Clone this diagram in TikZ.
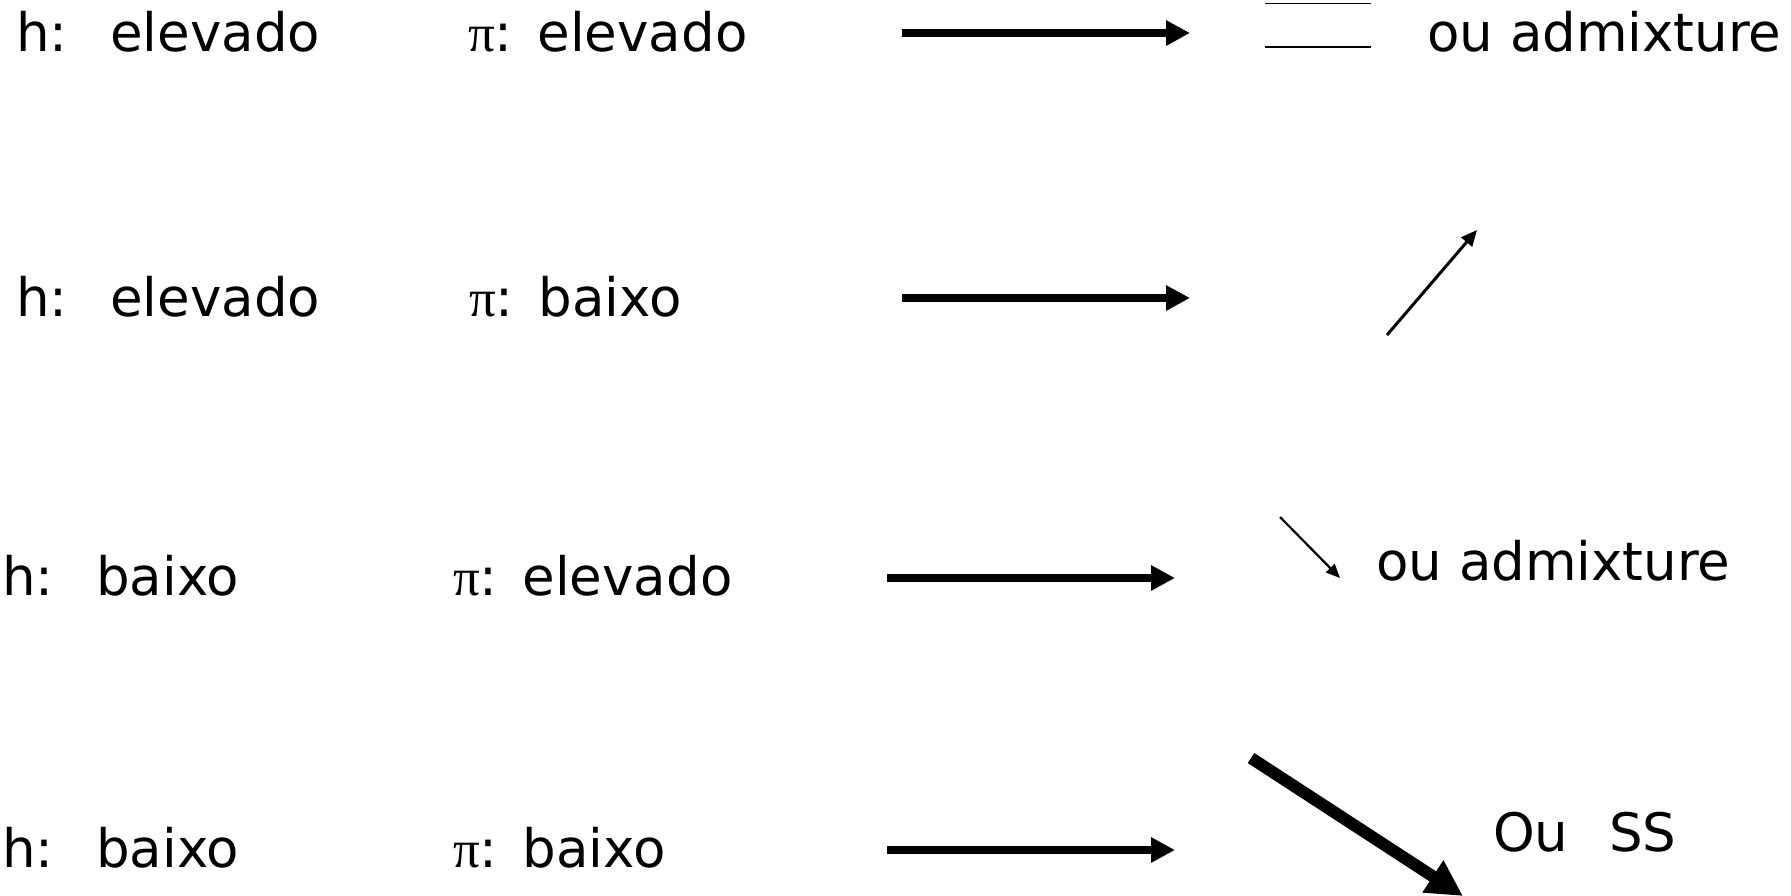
\documentclass[tikz,border=0pt]{standalone}
\usepackage{fontspec}
\setmainfont{DejaVu Sans}
\newfontfamily\greekfont{Liberation Serif}
\usetikzlibrary{arrows.meta}

% label pieces with the wide gaps used in every row
\newcommand{\hlabel}[1]{h:\ \ \hspace{9pt}#1}
\newcommand{\pilabel}[1]{{\greekfont π}:\hspace{8pt}\ #1}

\begin{document}
\begin{tikzpicture}[x=1pt,y=-1pt,
  lbl/.style={anchor=base west,inner sep=0pt,font=\fontsize{53}{63}\selectfont},
  mainarrow/.style={line width=8pt,-{Triangle[length=24pt,width=24pt]}},
  uparrow/.style={line width=3pt,-{Triangle[length=16pt,width=14pt]}},
  downarrow/.style={line width=2.2pt,-{Triangle[length=14pt,width=12pt]}},
  bigarrow/.style={line width=12pt,-{Triangle[length=36pt,width=36pt]}},
  eqline/.style={line width=1.5pt}]
\useasboundingbox (0,0) rectangle (1791,895);

% row 1
\node[lbl] (h1) at (16,51) {\hlabel{elevado}};
\node[lbl] (p1) at (468,51) {\pilabel{elevado}};
\coordinate (a1s) at (902,33);
\coordinate (a1e) at (1190,33);
\draw[mainarrow] (a1s) -- (a1e);
\coordinate (eqa) at (1265,3.5);
\coordinate (eqb) at (1371,3.5);
\coordinate (eqc) at (1265,47);
\coordinate (eqd) at (1371,47);
\draw[eqline] (eqa) -- (eqb);
\draw[eqline] (eqc) -- (eqd);
\node[lbl] (r1) at (1427,51) {ou admixture};

% row 2
\node[lbl] (h2) at (16,316) {\hlabel{elevado}};
\node[lbl] (p2) at (469,316) {\pilabel{baixo}};
\coordinate (a2s) at (902,298);
\coordinate (a2e) at (1190,298);
\draw[mainarrow] (a2s) -- (a2e);
\coordinate (u2s) at (1387,335);
\coordinate (u2e) at (1477,230);
\draw[uparrow] (u2s) -- (u2e);

% row 3
\node[lbl] (h3) at (2,595) {\hlabel{baixo}};
\node[lbl] (p3) at (453,595) {\pilabel{elevado}};
\coordinate (a3s) at (887,578);
\coordinate (a3e) at (1175,578);
\draw[mainarrow] (a3s) -- (a3e);
\coordinate (d3s) at (1280,517);
\coordinate (d3e) at (1340,578);
\draw[downarrow] (d3s) -- (d3e);
\node[lbl] (r3) at (1376,580) {ou admixture};

% row 4
\node[lbl] (h4) at (2,867) {\hlabel{baixo}};
\node[lbl] (p4) at (453,867) {\pilabel{baixo}};
\coordinate (a4s) at (887,850);
\coordinate (a4e) at (1175,850);
\draw[mainarrow] (a4s) -- (a4e);
\coordinate (b4s) at (1251,758);
\coordinate (b4e) at (1463,896);
\draw[bigarrow] (b4s) -- (b4e);
\node[lbl] (r4) at (1493,851) {Ou\ \ \hspace{7pt}SS};
\end{tikzpicture}
\end{document}
